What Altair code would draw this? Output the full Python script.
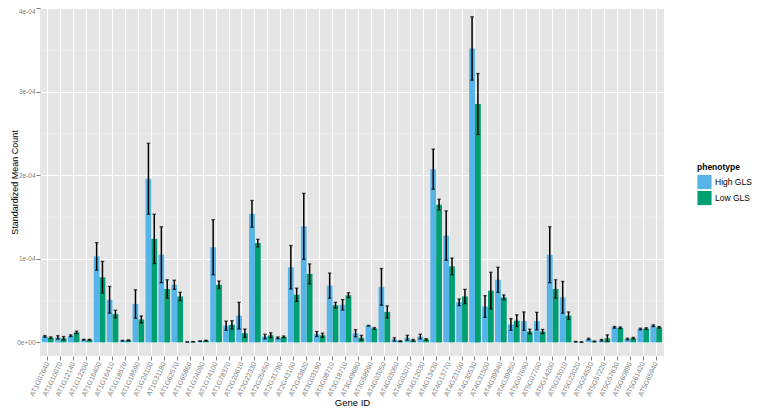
import altair as alt
import pandas as pd

# Gene IDs (x axis categories)
genes = [
    "AT1G07640", "AT1G10070", "AT1G12140", "AT1G12200", "AT1G16400", "AT1G16410",
    "AT1G18570", "AT1G18590", "AT1G24100", "AT1G31180", "AT1G62570", "AT1G65860",
    "AT1G74090", "AT1G74100", "AT1G78370", "AT2G20610", "AT2G22330", "AT2G25450",
    "AT2G31790", "AT2G43100", "AT2G43820", "AT3G03190", "AT3G08710", "AT3G18710",
    "AT3G49680", "AT3G58990", "AT4G03050", "AT4G03060", "AT4G03070", "AT4G12030",
    "AT4G13430", "AT4G13770", "AT4G23100", "AT4G30530", "AT4G31500", "AT4G39940",
    "AT4G39950", "AT5G07690", "AT5G07700", "AT5G14200", "AT5G23010", "AT5G23020",
    "AT5G24530", "AT5G57220", "AT5G57630", "AT5G60890", "AT5G61420", "AT5G65940",
]

# Standardized mean counts, in units of 1e-5
high_mean = [0.72, 0.60, 0.80, 0.32, 10.3, 5.1, 0.20, 4.6, 19.6, 10.5, 6.9, 0.05,
             0.15, 11.4, 2.0, 3.2, 15.4, 0.70, 0.55, 9.0, 13.9, 1.0, 6.8, 4.5,
             1.1, 2.0, 6.65, 0.35, 0.55, 0.70, 20.75, 12.8, 4.8, 35.2, 4.3, 7.5,
             2.15, 2.55, 2.55, 10.5, 5.4, 0.08, 0.40, 0.25, 1.8, 0.40, 1.6, 2.0]
high_err = [0.10, 0.20, 0.10, 0.05, 1.65, 1.6, 0.05, 1.7, 4.25, 3.35, 0.55, 0.02,
            0.03, 3.3, 0.55, 1.6, 1.6, 0.28, 0.10, 2.6, 3.95, 0.30, 1.5, 0.62,
            0.42, 0.03, 2.2, 0.20, 0.30, 0.28, 2.4, 2.95, 0.40, 3.8, 1.3, 1.5,
            0.70, 1.1, 1.05, 3.35, 1.9, 0.03, 0.10, 0.10, 0.10, 0.10, 0.10, 0.10]
low_mean = [0.56, 0.50, 1.2, 0.32, 7.8, 3.4, 0.25, 2.75, 12.4, 6.4, 5.5, 0.08,
            0.20, 6.9, 2.1, 1.1, 11.9, 0.85, 0.67, 5.7, 8.2, 0.85, 4.45, 5.65,
            0.55, 1.67, 3.65, 0.15, 0.25, 0.35, 16.5, 9.1, 5.5, 28.55, 6.2, 5.4,
            2.6, 1.3, 1.3, 6.4, 3.2, 0.05, 0.12, 0.50, 1.75, 0.50, 1.65, 1.8]
low_err = [0.10, 0.20, 0.15, 0.05, 1.9, 0.45, 0.05, 0.42, 2.95, 1.1, 0.50, 0.02,
           0.05, 0.45, 0.50, 0.50, 0.45, 0.30, 0.10, 0.80, 1.2, 0.25, 0.35, 0.30,
           0.30, 0.10, 0.72, 0.05, 0.10, 0.10, 0.65, 1.0, 0.85, 3.65, 2.2, 0.28,
           0.70, 0.28, 0.25, 1.1, 0.45, 0.02, 0.05, 0.40, 0.10, 0.10, 0.10, 0.10]

phenotypes = ["High GLS", "Low GLS"]
colors = ["#56B4E9", "#009E73"]

y_ticks = [0, 1e-4, 2e-4, 3e-4, 4e-4]
y_minor = [0.5e-4, 1.5e-4, 2.5e-4, 3.5e-4]

rows = []
for i, g in enumerate(genes):
    for ph, m, e in (("High GLS", high_mean[i], high_err[i]), ("Low GLS", low_mean[i], low_err[i])):
        rows.append({"gene": g, "phenotype": ph, "mean": m * 1e-5,
                     "lo": (m - e) * 1e-5, "hi": (m + e) * 1e-5})
df = pd.DataFrame(rows)
minor_df = pd.DataFrame({"v": y_minor})

W, H = 624, 348

yscale = alt.Scale(domain=[-1.63e-5, 40.05e-5], nice=False, zero=False)
yaxis = alt.Axis(
    title="Standardized Mean Count", values=y_ticks,
    labelExpr="datum.value == 0 ? '0e+00' : format(datum.value / 1e-4, '.0f') + 'e-04'",
    labelBaseline=alt.condition("datum.value >= 0.0004", alt.value("top"), alt.value("middle")),
    labelFontSize=6.5, labelColor="#7F7F7F", tickColor="#7F7F7F", tickSize=4,
    labelPadding=1, domain=False, grid=True, gridColor="white", gridWidth=1.1,
    titleFontSize=9, titleFontWeight="normal", titleColor="black",
    titleX=-26, titleY=H / 2, titleBaseline="middle",
)
xscale = alt.Scale(paddingInner=0.1, paddingOuter=0.15)
xaxis = alt.Axis(
    title="Gene ID", labelAngle=-65, labelFontSize=7, labelColor="#7F7F7F",
    tickColor="#7F7F7F", tickSize=4, labelPadding=2, domain=False,
    grid=True, gridColor="white", gridWidth=1.1, bandPosition=0.5,
    titleFontSize=9.5, titleFontWeight="normal", titleColor="black",
    titleY=41, titleBaseline="top",
)
X = alt.X("gene:N", sort=genes, scale=xscale, axis=xaxis)
XO = alt.XOffset("phenotype:N", scale=alt.Scale(domain=phenotypes, paddingInner=0, paddingOuter=0))

minor_grid = alt.Chart(minor_df).mark_rule(color="#F2F2F2", strokeWidth=0.6).encode(
    y=alt.Y("v:Q", scale=yscale, axis=yaxis)
)

bars = alt.Chart(df).mark_bar(strokeWidth=0).encode(
    x=X, xOffset=XO,
    y=alt.Y("mean:Q", scale=yscale, axis=yaxis),
    y2=alt.datum(0),
    color=alt.Color("phenotype:N", scale=alt.Scale(domain=phenotypes, range=colors),
                    legend=alt.Legend(title="phenotype", orient="none", legendX=657, legendY=155,
                                      titleFontSize=8.5, titleFontWeight="bold", titleColor="black",
                                      labelFontSize=8.5, labelColor="black", symbolType="square",
                                      symbolSize=200, symbolStrokeWidth=0, rowPadding=1,
                                      titlePadding=3, labelOffset=3)),
)

err = alt.Chart(df).mark_rule(color="black", strokeWidth=1.5).encode(
    x=X, xOffset=XO,
    y=alt.Y("lo:Q", scale=yscale, axis=yaxis), y2="hi:Q",
)
cap_lo = alt.Chart(df).mark_tick(color="black", size=3.5, thickness=1.3).encode(
    x=X, xOffset=XO, y=alt.Y("lo:Q", scale=yscale, axis=yaxis),
)
cap_hi = alt.Chart(df).mark_tick(color="black", size=3.5, thickness=1.3).encode(
    x=X, xOffset=XO, y=alt.Y("hi:Q", scale=yscale, axis=yaxis),
)

chart = alt.layer(minor_grid, bars, err, cap_lo, cap_hi).properties(
    width=W, height=H,
    autosize=alt.AutoSizeParams(type="none"),
    padding={"left": 32, "top": 0, "right": 95, "bottom": 53},
).configure(font="Liberation Sans").configure_view(fill="#E5E5E5", strokeWidth=0)

chart.save("out.html", embed_options={"renderer": "svg", "actions": False})
